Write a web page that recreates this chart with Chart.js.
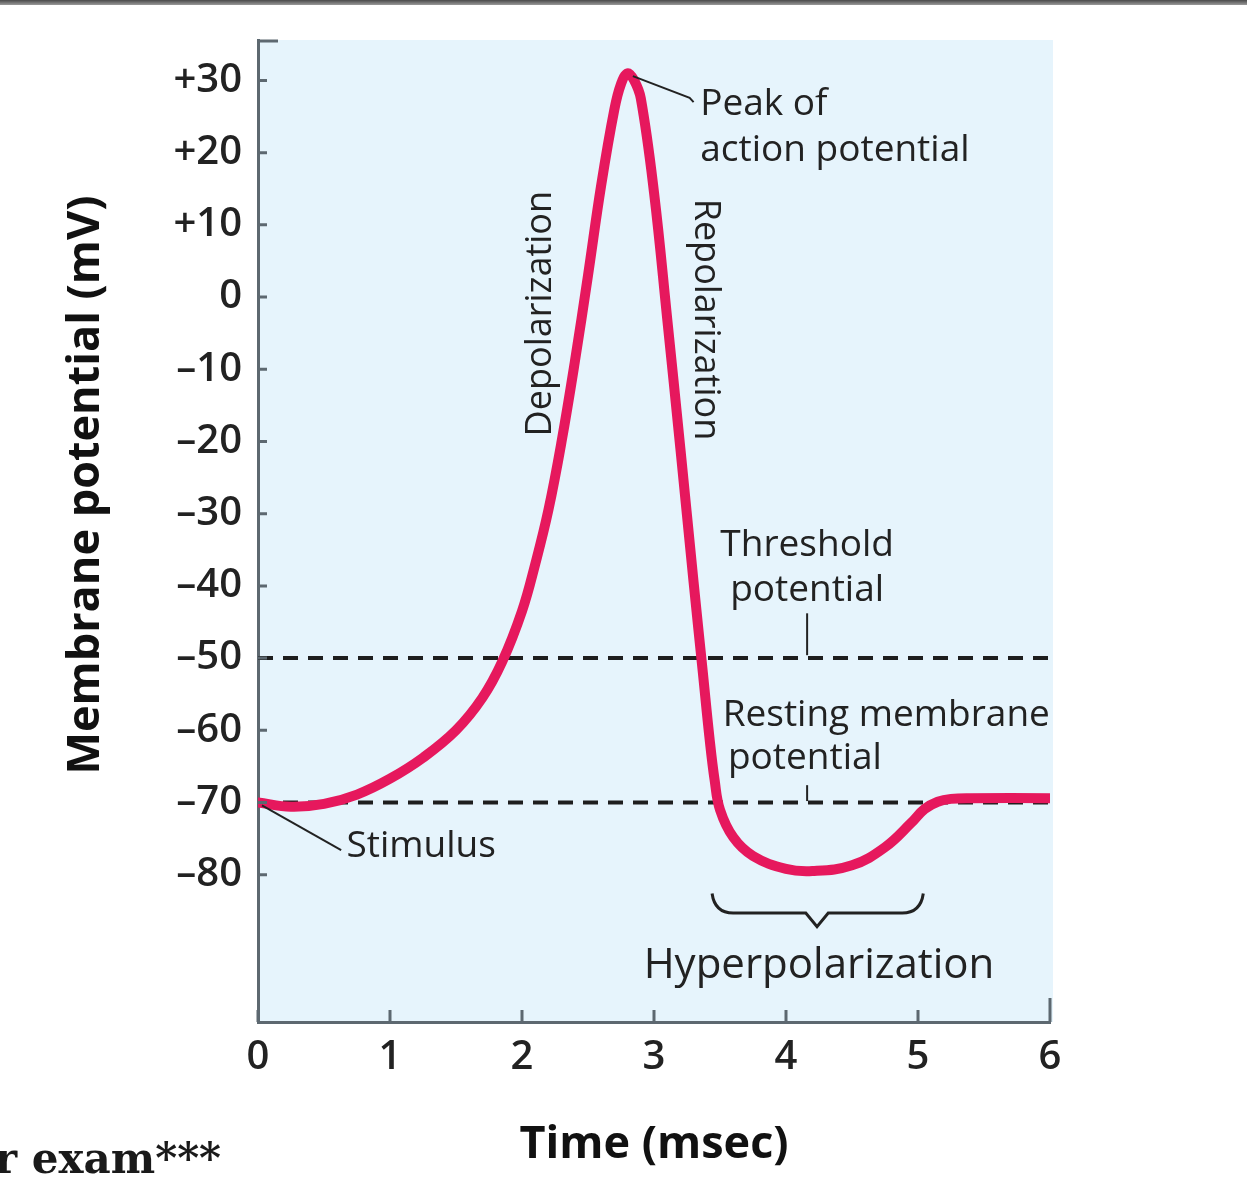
<!DOCTYPE html>
<html>
<head>
<meta charset="utf-8">
<title>Action potential</title>
<script src="https://cdn.jsdelivr.net/npm/chart.js@4.4.1/dist/chart.umd.min.js"></script>
<style>
  html, body { margin: 0; padding: 0; background: #fff; }
  body { width: 1247px; height: 1200px; position: relative; overflow: hidden; }
  #topRule { position: absolute; left: 0; top: 0; width: 1247px; height: 5px;
             background: linear-gradient(#4a4a4a, #9a9a9a); }
  #note { position: absolute; left: -5px; top: 1134px; font-family: "DejaVu Serif", serif;
          font-weight: bold; font-size: 42px; color: #1a1a1a; white-space: nowrap; }
  canvas { position: absolute; left: 0; top: 0; }
</style>
</head>
<body>
<canvas id="apChart" width="1247" height="1200"></canvas>
<div id="topRule"></div>
<div id="note">r exam***</div>
<script>
// membrane potential trace
const timeMs = [0, 0.25, 0.5, 0.75, 1.0, 1.25, 1.5, 1.7, 1.85, 2.0, 2.1, 2.2, 2.3, 2.4, 2.5, 2.6, 2.7, 2.75, 2.8, 2.85,
  2.9, 3.0, 3.1, 3.2, 3.3, 3.37, 3.42, 3.46, 3.5, 3.6, 3.75, 4.0, 4.2, 4.5, 4.75, 4.95, 5.05, 5.15, 5.25, 5.4, 6.0];
const potentialMv = [-70, -70.6, -70.2, -68.9, -66.7, -63.8, -60, -55.5, -50.5, -43.5, -37, -29.5, -20, -9, 3, 15.5, 26, 29.5, 31, 30,
  27.5, 14.5, -3, -21, -39.5, -52, -61, -67, -71, -74.8, -77.4, -79.2, -79.5, -78.7, -76.2, -72.8, -70.9, -69.9, -69.5, -69.4, -69.4];

const thresholdMv = -50;
const restingMv = -70;

const xTicks = [0, 1, 2, 3, 4, 5, 6];
const yTicks = [30, 20, 10, 0, -10, -20, -30, -40, -50, -60, -70, -80];

const FONT = '"Open Sans", "Noto Sans", sans-serif';
const TEXT = '#222';
const AXIS = '#5d6870';

const ctx = document.getElementById('apChart').getContext('2d');

// light blue plot background + inside ticks + axis titles
const framePlugin = {
  id: 'frame',
  beforeDraw(chart) {
    const { ctx, chartArea: a } = chart;
    ctx.save();
    ctx.fillStyle = '#e6f4fc';
    ctx.fillRect(a.left, a.top, a.right - a.left + 3, a.bottom - a.top);
    ctx.restore();
  },
  afterDraw(chart) {
    const { ctx, chartArea: a, scales } = chart;
    ctx.save();
    ctx.strokeStyle = AXIS;
    ctx.lineWidth = 3;
    ctx.beginPath();
    yTicks.forEach(v => {
      const y = scales.y.getPixelForValue(v);
      ctx.moveTo(a.left, y);
      ctx.lineTo(a.left + 9, y);
    });
    xTicks.forEach(v => {
      const x = scales.x.getPixelForValue(v);
      const len = v === 6 ? 24 : 12;
      ctx.moveTo(x, a.bottom);
      ctx.lineTo(x, a.bottom - len);
    });
    // little cap at top of y axis
    ctx.moveTo(a.left - 1, a.top + 1);
    ctx.lineTo(a.left + 20, a.top + 1);
    ctx.stroke();

    ctx.fillStyle = '#111';
    ctx.font = 'bold 45px ' + FONT;
    ctx.textAlign = 'center';
    ctx.textBaseline = 'middle';
    ctx.fillText('Time (msec)', (a.left + a.right) / 2, 1145);
    ctx.translate(86, 485);
    ctx.rotate(-Math.PI / 2);
    ctx.fillText('Membrane potential (mV)', 0, 0);
    ctx.restore();
  }
};

// callout text, leader lines and brace, positioned in data units
const notesPlugin = {
  id: 'notes',
  afterDatasetsDraw(chart) {
    const { ctx, scales } = chart;
    const px = t => scales.x.getPixelForValue(t);
    const py = v => scales.y.getPixelForValue(v);
    ctx.save();
    ctx.fillStyle = TEXT;
    ctx.strokeStyle = TEXT;
    ctx.textBaseline = 'middle';

    const text = (s, t, v, size, align) => {
      ctx.font = size + 'px ' + FONT;
      ctx.textAlign = align || 'left';
      ctx.fillText(s, px(t), py(v));
    };
    const line = (pts, w) => {
      ctx.lineWidth = w || 2;
      ctx.beginPath();
      pts.forEach((p, i) => i ? ctx.lineTo(px(p[0]), py(p[1])) : ctx.moveTo(px(p[0]), py(p[1])));
      ctx.stroke();
    };

    text('Peak of', 3.35, 26.7, 37);
    text('action potential', 3.35, 20.3, 37);
    line([[2.84, 30.6], [3.27, 27.6], [3.3, 27.0]]);

    text('Threshold', 4.16, -34.4, 37, 'center');
    text('potential', 4.16, -40.6, 37, 'center');
    line([[4.16, -43.8], [4.16, -49.6]]);

    text('Resting membrane', 3.52, -58.0, 37);
    text('potential', 3.56, -63.9, 37);
    line([[4.16, -67.6], [4.16, -69.8]]);

    text('Stimulus', 0.67, -76.1, 37);
    line([[0.03, -70.4], [0.63, -76.6]]);

    text('Hyperpolarization', 4.25, -92.6, 42, 'center');

    // brace under the undershoot
    ctx.lineWidth = 3;
    ctx.beginPath();
    ctx.moveTo(px(3.44), py(-82.6));
    ctx.quadraticCurveTo(px(3.46), py(-85.3), px(3.6), py(-85.3));
    ctx.lineTo(px(4.15), py(-85.3));
    ctx.lineTo(px(4.235), py(-87.2));
    ctx.lineTo(px(4.32), py(-85.3));
    ctx.lineTo(px(4.88), py(-85.3));
    ctx.quadraticCurveTo(px(5.02), py(-85.3), px(5.04), py(-82.6));
    ctx.stroke();

    // rotated phase labels
    ctx.font = '36px ' + FONT;
    ctx.textAlign = 'center';
    ctx.save();
    ctx.translate(px(2.14), py(-2.3));
    ctx.rotate(-Math.PI / 2);
    ctx.fillText('Depolarization', 0, 0);
    ctx.restore();
    ctx.save();
    ctx.translate(px(3.39), py(-3.1));
    ctx.rotate(Math.PI / 2);
    ctx.fillText('Repolarization', 0, 0);
    ctx.restore();

    ctx.restore();
  }
};

const trace = timeMs.map((t, i) => ({ x: t, y: potentialMv[i] }));
const dashed = v => [{ x: 0, y: v }, { x: 6, y: v }];

new Chart(ctx, {
  type: 'line',
  data: {
    datasets: [
      {
        label: 'Membrane potential',
        data: trace,
        borderColor: '#e6185d',
        borderWidth: 10,
        pointRadius: 0,
        tension: 0.4,
        borderCapStyle: 'round',
        borderJoinStyle: 'round',
        fill: false
      },
      {
        label: 'Threshold potential',
        data: dashed(thresholdMv),
        borderColor: '#1e1e1e',
        borderWidth: 4,
        borderDash: [15, 10],
        pointRadius: 0
      },
      {
        label: 'Resting membrane potential',
        data: dashed(restingMv),
        borderColor: '#1e1e1e',
        borderWidth: 4,
        borderDash: [15, 10],
        pointRadius: 0
      }
    ]
  },
  options: {
    responsive: false,
    animation: false,
    devicePixelRatio: 1,
    layout: { padding: { left: 0, right: 197, top: 35, bottom: 0 } },
    plugins: { legend: { display: false }, tooltip: { enabled: false } },
    scales: {
      x: {
        type: 'linear',
        min: 0,
        max: 6,
        afterFit: s => { s.height = 178; },
        afterBuildTicks: s => { s.ticks = xTicks.map(v => ({ value: v })); },
        grid: { display: false, drawTicks: false },
        border: { display: true, color: AXIS, width: 3 },
        ticks: { padding: 12, color: TEXT, font: { family: FONT, size: 40, weight: '600' } }
      },
      y: {
        type: 'linear',
        min: -100.4,
        max: 35.6,
        afterFit: s => { s.width = 258; },
        afterBuildTicks: s => { s.ticks = yTicks.map(v => ({ value: v })); },
        grid: { display: false, drawTicks: false },
        border: { display: true, color: AXIS, width: 3 },
        ticks: {
          padding: 16,
          color: TEXT,
          font: { family: FONT, size: 40, weight: '600' },
          callback: v => v > 0 ? '+' + v : (v < 0 ? '\u2013' + Math.abs(v) : '0')
        }
      }
    }
  },
  plugins: [framePlugin, notesPlugin]
});
</script>
</body>
</html>
